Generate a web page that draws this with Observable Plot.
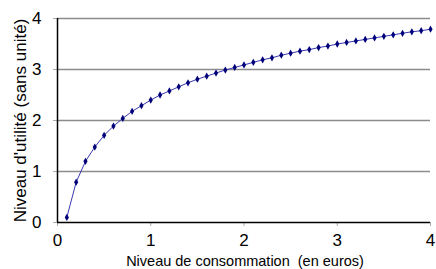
<!DOCTYPE html>
<html><head><meta charset="utf-8">
<script src="https://cdn.jsdelivr.net/npm/d3@7"></script>
<script src="https://cdn.jsdelivr.net/npm/@observablehq/plot@0.6"></script>
<style>body{margin:0;background:#fff}</style>
</head><body><div id="chart"></div>
<script>
const consumption = [0.1,0.2,0.3,0.4,0.5,0.6,0.7,0.8,0.9,1.0,1.1,1.2,1.3,1.4,1.5,1.6,1.7,1.8,1.9,2.0,2.1,2.2,2.3,2.4,2.5,2.6,2.7,2.8,2.9,3.0,3.1,3.2,3.3,3.4,3.5,3.6,3.7,3.8,3.9,4.0];
const utility = [0.10,0.79,1.20,1.48,1.71,1.89,2.04,2.18,2.29,2.40,2.50,2.58,2.66,2.74,2.81,2.87,2.93,2.99,3.04,3.09,3.14,3.19,3.23,3.28,3.32,3.36,3.39,3.43,3.46,3.50,3.53,3.56,3.59,3.62,3.65,3.68,3.71,3.74,3.76,3.79];
const xTicks = [0,1,2,3,4];
const yTicks = [0,1,2,3,4];
const gridTicks = [1,2,3,4];
const xLabel = "Niveau de consommation\u00a0 (en euros)";
const yLabel = "Niveau d'utilité (sans unité)";
const data = consumption.map((x,i)=>({x, y: utility[i]}));

const chart = Plot.plot({
  width: 436, height: 269,
  marginLeft: 57, marginRight: 6, marginTop: 18, marginBottom: 47,
  x: {domain:[0,4]},
  y: {domain:[0,4]},
  style: {fontFamily: "'Liberation Sans', Arial, sans-serif", background: "#fff"},
  marks: [
    Plot.ruleY(gridTicks, {stroke: "#8c8c8c", strokeWidth: 1.5}),
    Plot.axisX(xTicks, {tickSize: 4, stroke: "#aaa", fill: "#000", fontSize: 17, tickPadding: 7, tickFormat: d3.format("d"), label: null}),
    Plot.axisY(yTicks, {tickSize: 4, stroke: "#aaa", fill: "#000", fontSize: 17, tickPadding: 12, tickFormat: d3.format("d"), label: null}),
    Plot.ruleX([0], {stroke: "#000", strokeWidth: 1.5}),
    Plot.ruleY([0], {stroke: "#000", strokeWidth: 1.5}),
    Plot.line(data, {x: "x", y: "y", stroke: "#3a3ab0", strokeWidth: 1}),
    Plot.dot(data, {x: "x", y: "y", symbol: "diamond", r: 2.2, fill: "#00007a", stroke: "none"}),
    Plot.text([xLabel], {frameAnchor: "bottom", dy: 43, dx: 1, fontSize: 14.5, fill: "#000"}),
    Plot.text([yLabel], {frameAnchor: "left", textAnchor: "middle", dx: -37, rotate: -90, fontSize: 17, fill: "#000"})
  ]
});
document.getElementById("chart").append(chart);
</script></body></html>
